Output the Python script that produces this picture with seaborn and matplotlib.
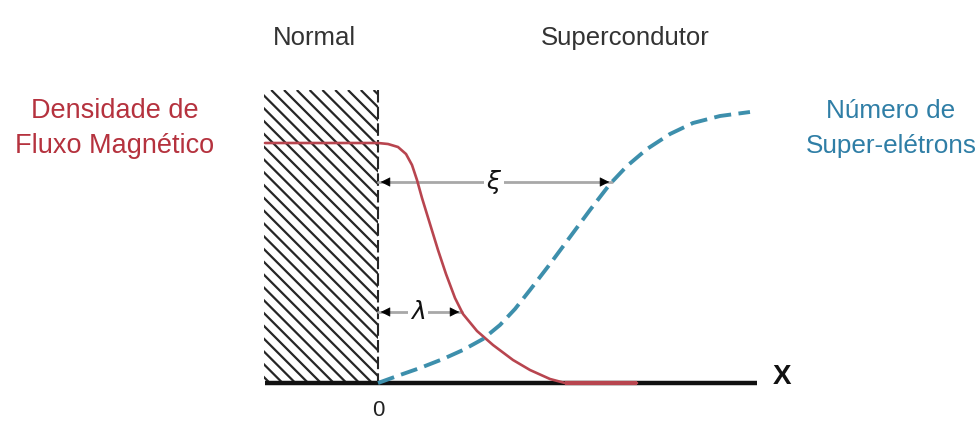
import matplotlib
matplotlib.use("Agg")
import matplotlib.pyplot as plt
import matplotlib.patches as mpatches
import seaborn as sns
import pandas as pd
import numpy as np

# ---- data (pixel-like coordinates; y grows downward) ----
red_x = [265, 378, 388, 398, 406, 412, 417, 422, 430, 438, 446, 455, 463, 477, 493, 513, 530, 550, 565, 637]
red_y = [143, 143, 144, 147, 154, 165, 180, 198, 224, 250, 274, 298, 314, 331, 345, 360, 370, 379, 383, 383]

blue_x = [378, 400, 420, 443, 463, 483, 500, 515, 530, 550, 570, 590, 610, 627, 647, 670, 693, 720, 750]
blue_y = [383, 375, 368, 359, 350, 339, 325, 309, 290, 264, 237, 210, 184, 166, 149, 134, 123, 116, 112]

axis_x = [265, 757]
axis_y = [383, 383]

region_labels = ["Normal", "Supercondutor"]
left_label = ["Densidade de", "Fluxo Magnético"]
right_label = ["Número de", "Super-elétrons"]
xi_span = [378, 612]
lam_span = [378, 462]

sns.set_theme(style="white")
plt.rcParams['font.family'] = ['Liberation Sans', 'DejaVu Sans']

fig = plt.figure(figsize=(9.79, 4.24), dpi=100)
ax = fig.add_axes([0, 0, 1, 1])

# hatched normal region
rect = mpatches.Rectangle((264, 90), 378 - 264, 383 - 90, facecolor='none', edgecolor='none')
ax.add_patch(rect)
for c in np.arange(264 - 300, 380, 12.8):
    ln, = ax.plot([c, c + 320], [90, 410], color='#262626', lw=1.6, solid_capstyle='butt')
    ln.set_clip_path(rect)
ax.plot([378, 378], [90, 383], color='#262626', lw=1.5, dashes=(6, 2))

# axis line
ax.plot(axis_x, axis_y, color='#111111', lw=3.2, solid_capstyle='butt', zorder=3)

# curves
df_red = pd.DataFrame({"x": red_x, "y": red_y})
df_blue = pd.DataFrame({"x": blue_x, "y": blue_y})
sns.lineplot(data=df_red, x="x", y="y", ax=ax, color='#b8454f', lw=1.9, sort=False, zorder=4)
ax.plot(red_x[-2:], red_y[-2:], color='#b8454f', lw=3.0, solid_capstyle='butt', zorder=4)
sns.lineplot(data=df_blue, x="x", y="y", ax=ax, color='#3d8fac', lw=2.8, sort=False, zorder=4)
ax.lines[-1].set_dashes([4.4, 1.9])

ax.set_xlim(0, 979)
ax.set_ylim(424, 0)
ax.axis('off')

# dimension arrows
def dim_arrow(span, y, label, lx):
    ax.plot(span, [y, y], color='#a8a8a8', lw=2, zorder=2)
    ax.annotate('', xy=(span[0], y), xytext=(span[0] + 14, y),
                arrowprops=dict(arrowstyle='-|>', color='black', lw=0.5, mutation_scale=15), zorder=5)
    ax.annotate('', xy=(span[1], y), xytext=(span[1] - 14, y),
                arrowprops=dict(arrowstyle='-|>', color='black', lw=0.5, mutation_scale=15), zorder=5)
    ax.text(lx, y, label, ha='center', va='center', fontsize=18, color='#111111',
            bbox=dict(facecolor='white', edgecolor='none', pad=1.5), zorder=6)

dim_arrow(xi_span, 182, r'$\xi$', 494)
dim_arrow(lam_span, 312, r'$\lambda$', 418)

# texts
ax.text(314, 45, region_labels[0], ha='center', va='baseline', fontsize=18.5, color='#333333')
ax.text(625, 45, region_labels[1], ha='center', va='baseline', fontsize=18.5, color='#333333')
for txt, yb in zip(left_label, [118, 153]):
    ax.text(115, yb, txt, ha='center', va='baseline', fontsize=19.5, color='#b5323e')
for txt, yb in zip(right_label, [118, 153]):
    ax.text(891, yb, txt, ha='center', va='baseline', fontsize=18.8, color='#2f7ea6')
ax.text(782, 377, 'X', ha='center', va='center', fontsize=20, fontweight='bold', color='#111111')
ax.text(378, 411, '0', ha='center', va='center', fontsize=16, color='#222222')

fig.savefig('out.png', dpi=100)
